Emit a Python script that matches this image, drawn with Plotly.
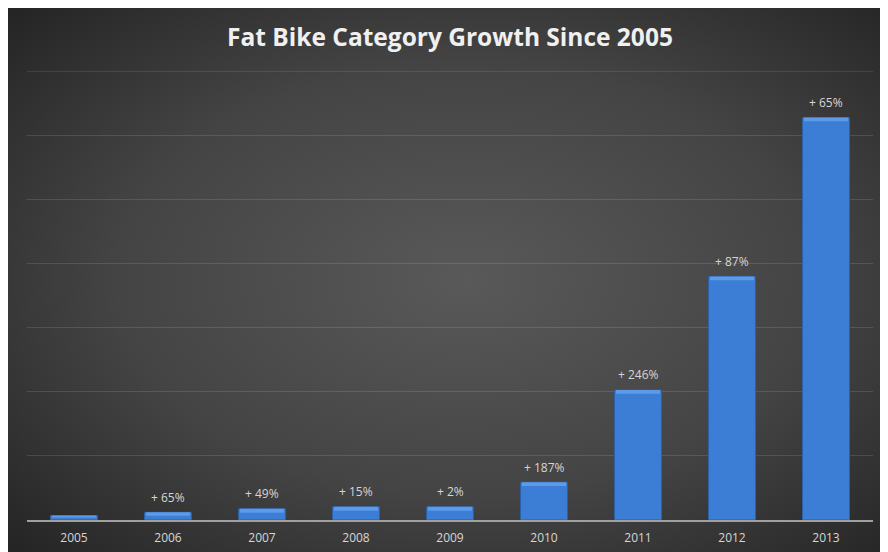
import base64
import plotly.graph_objects as go

years = ["2005", "2006", "2007", "2008", "2009", "2010", "2011", "2012", "2013"]
sales = [0.07, 0.12, 0.175, 0.205, 0.205, 0.59, 2.03, 3.8, 6.28]
growth_labels = ["", "+ 65%", "+ 49%", "+ 15%", "+ 2%", "+ 187%", "+ 246%", "+ 87%", "+ 65%"]
title_text = "Fat Bike Category Growth Since 2005"
grid_top = 7

# page has an 8px body margin, so the figure is 880x544 and starts at (8, 8)
FW, FH = 880, 544
L, R, T, B = 19, 15, 63, 32
pw, ph = FW - L - R, FH - T - B

svg = (
    '<svg xmlns="http://www.w3.org/2000/svg" width="880" height="544" viewBox="0 0 880 544" preserveAspectRatio="none">'
    '<defs><radialGradient id="g" cx="0.52" cy="0.5" r="0.72">'
    '<stop offset="0" stop-color="#595959"/>'
    '<stop offset="0.55" stop-color="#444444"/>'
    '<stop offset="1" stop-color="#242424"/>'
    '</radialGradient></defs>'
    '<rect x="0" y="0" width="880" height="544" fill="url(#g)"/></svg>'
)
src = "data:image/svg+xml;base64," + base64.b64encode(svg.encode()).decode()

fig = go.Figure()
fig.add_trace(go.Bar(
    x=years, y=sales,
    marker=dict(color="#3c7ed6", line=dict(color="#2b5fa6", width=1)),
    width=0.5, hoverinfo="skip",
))
# top bevel highlight
bevel = [min(0.06, v * 0.45) for v in sales]
fig.add_trace(go.Bar(
    x=years, y=bevel, base=[v - b for v, b in zip(sales, bevel)],
    marker=dict(color="#5d9be9", line=dict(width=0)),
    width=0.47, hoverinfo="skip",
))

for i, (v, lab) in enumerate(zip(sales, growth_labels)):
    if lab:
        fig.add_annotation(x=i, y=v, xref="x", yref="y", text=lab, showarrow=False, yshift=15,
                           font=dict(family="Open Sans", size=12, color="#d6d6d6"))

fig.add_layout_image(dict(source=src, xref="paper", yref="paper",
                          x=-L / pw, y=(FH - B) / ph,
                          sizex=FW / pw, sizey=FH / ph, sizing="stretch",
                          xanchor="left", yanchor="top", layer="below"))

# topmost gridline (plotly drops the one sitting on the plot edge)
fig.add_hline(y=grid_top, line=dict(color="rgba(255,255,255,0.12)", width=1), layer="below")

fig.update_layout(
    width=FW, height=FH,
    margin=dict(l=L, r=R, t=T, b=B, autoexpand=False),
    paper_bgcolor="#333333", plot_bgcolor="rgba(0,0,0,0)",
    barmode="overlay", showlegend=False,
    title=dict(text="<b>" + title_text + "</b>", x=442 / FW, xanchor="center",
               y=1 - 29 / FH, yanchor="middle",
               font=dict(family="Open Sans", size=24.5, color="#f0f0f0")),
    xaxis=dict(type="category", range=[-0.5, len(years) - 0.5], showline=True, automargin=False,
               linecolor="#a0a0a0", linewidth=1.5, ticks="", ticklabelstandoff=6,
               tickfont=dict(family="Open Sans", size=12, color="#d6d6d6"),
               showgrid=False),
    yaxis=dict(range=[0, 7.005], tickvals=[1, 2, 3, 4, 5, 6, 7], showticklabels=False,
               automargin=False,
               showgrid=True, gridcolor="rgba(255,255,255,0.12)", gridwidth=1, zeroline=False),
)

fig.write_html("out.html")
